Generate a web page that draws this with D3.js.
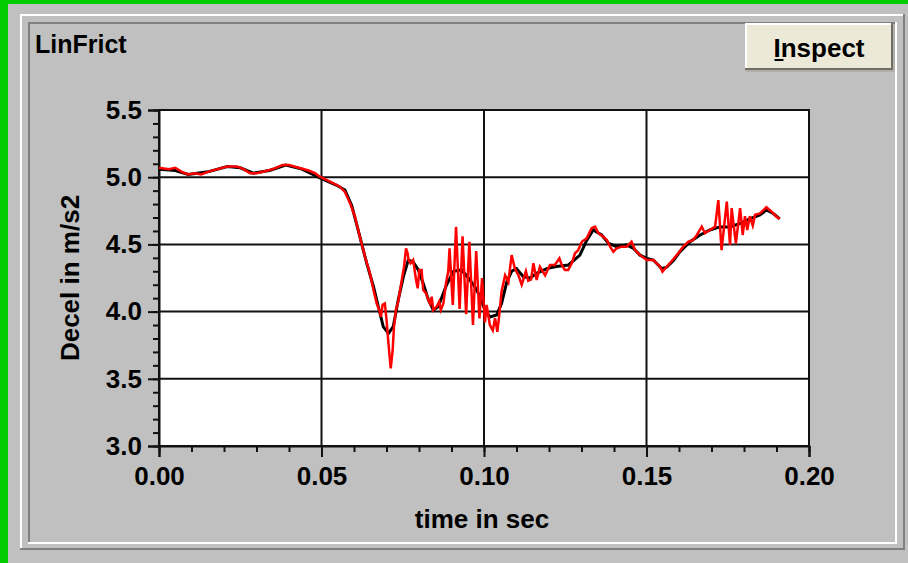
<!DOCTYPE html>
<html>
<head>
<meta charset="utf-8">
<script src="https://cdn.jsdelivr.net/npm/d3@7"></script>
<style>
  html, body { margin: 0; padding: 0; background: #c0c0c0; }
  svg { display: block; }
  text { font-family: "Liberation Sans", Arial, sans-serif; font-weight: bold; fill: #000; }
</style>
</head>
<body>
<svg id="chart" width="908" height="563"></svg>
<script>
// ---------------- DATA ----------------
const chartTitle = "LinFrict";
const buttonLabel = "Inspect";
const xTitle = "time in sec";
const yTitle = "Decel in m/s2";
const xTickValues = [0.00, 0.05, 0.10, 0.15, 0.20];
const xTickLabels = ["0.00", "0.05", "0.10", "0.15", "0.20"];
const yTickValues = [3.0, 3.5, 4.0, 4.5, 5.0, 5.5];
const yTickLabels = ["3.0", "3.5", "4.0", "4.5", "5.0", "5.5"];

// smoothed (black) series
const smoothTime = [0.000, 0.005, 0.009, 0.015, 0.021, 0.025, 0.029, 0.034, 0.039, 0.044, 0.050,
  0.0547, 0.0572, 0.0593, 0.0618, 0.0639, 0.0660, 0.0675, 0.0690, 0.0706, 0.0721, 0.0736, 0.0752,
  0.0767, 0.0782, 0.0798, 0.0813, 0.0829, 0.0844, 0.0859, 0.0875, 0.0885, 0.0906, 0.0931, 0.0952,
  0.0972, 0.0988, 0.1003, 0.1018, 0.1039, 0.1054, 0.1070, 0.1085, 0.1100, 0.1121, 0.1142, 0.1162,
  0.1193, 0.1223, 0.1260, 0.1295, 0.1316, 0.1336, 0.1362, 0.1383, 0.1408, 0.1439, 0.1460, 0.1480,
  0.1501, 0.1521, 0.1547, 0.1562, 0.1583, 0.1603, 0.1634, 0.1665, 0.1695, 0.1726, 0.1757, 0.1788,
  0.1818, 0.1849, 0.1869, 0.1890, 0.1910];
const smoothDecel = [5.06, 5.05, 5.02, 5.04, 5.08, 5.07, 5.03, 5.05, 5.09, 5.06, 4.99,
  4.94, 4.905, 4.79, 4.557, 4.36, 4.185, 4.036, 3.888, 3.838, 3.89, 4.086, 4.26,
  4.384, 4.37, 4.31, 4.21, 4.086, 4.012, 4.036, 4.136, 4.20, 4.30, 4.31, 4.25,
  4.185, 4.11, 4.012, 3.96, 3.975, 4.06, 4.22, 4.30, 4.32, 4.26, 4.25, 4.285,
  4.32, 4.335, 4.347, 4.42, 4.53, 4.607, 4.57, 4.508, 4.483, 4.496, 4.47, 4.42,
  4.396, 4.384, 4.32, 4.33, 4.38, 4.446, 4.52, 4.57, 4.607, 4.63, 4.63, 4.657,
  4.69, 4.72, 4.756, 4.73, 4.69];

// raw (red) series
const rawTime = [0.000, 0.003, 0.005, 0.007, 0.009, 0.011, 0.013, 0.015, 0.018, 0.021, 0.024,
  0.026, 0.028, 0.030, 0.032, 0.035, 0.038, 0.040, 0.043, 0.046, 0.048, 0.0495,
  0.0526, 0.0557, 0.0572, 0.0588, 0.0603, 0.0618, 0.0634, 0.0649, 0.0660, 0.0670, 0.0678,
  0.0683, 0.0688, 0.0695, 0.0700, 0.0706, 0.0713, 0.0719, 0.0723, 0.0729, 0.0736, 0.0747,
  0.0754, 0.0760, 0.0765, 0.0768, 0.0774, 0.0782, 0.0791, 0.0796, 0.0801, 0.0808, 0.0813,
  0.0822, 0.0829, 0.0834, 0.0839, 0.0844, 0.0854, 0.0862, 0.0867, 0.0875, 0.0883, 0.0890,
  0.0894, 0.0904, 0.0914, 0.0925, 0.0934, 0.0945, 0.0955, 0.0966, 0.0976, 0.0986, 0.0994,
  0.1003, 0.1008, 0.1018, 0.1027, 0.1034, 0.1041, 0.1047, 0.1054, 0.1065, 0.1075, 0.1085,
  0.1095, 0.1106, 0.1116, 0.1129, 0.1136, 0.1145, 0.1152, 0.1162, 0.1172, 0.1188, 0.1203,
  0.1218, 0.1232, 0.1239, 0.1249, 0.1259, 0.1270, 0.1280, 0.1290, 0.1301, 0.1316, 0.1331,
  0.1342, 0.1352, 0.1367, 0.1378, 0.1388, 0.1398, 0.1408, 0.1424, 0.1439, 0.1454, 0.1465,
  0.1480, 0.1501, 0.1521, 0.1542, 0.1549, 0.1562, 0.1572, 0.1593, 0.1613, 0.1629, 0.1644,
  0.1655, 0.1670, 0.1680, 0.1695, 0.1711, 0.1721, 0.1731, 0.1747, 0.1757, 0.1762, 0.1775,
  0.1788, 0.1796, 0.1803, 0.1810, 0.1818, 0.1827, 0.1834, 0.1849, 0.1869, 0.1885, 0.1900,
  0.1910];
const rawDecel = [5.07, 5.06, 5.07, 5.04, 5.02, 5.03, 5.02, 5.04, 5.06, 5.08, 5.08,
  5.06, 5.03, 5.03, 5.04, 5.06, 5.09, 5.09, 5.07, 5.05, 5.03, 5.004,
  4.967, 4.929, 4.89, 4.806, 4.706, 4.557, 4.408, 4.285, 4.16, 4.06, 4.01,
  3.962, 4.05, 4.06, 3.94, 3.764, 3.578, 3.714, 3.888, 4.012, 4.074, 4.235,
  4.334, 4.471, 4.434, 4.384, 4.359, 4.384, 4.235, 4.173, 4.31, 4.31, 4.16,
  4.136, 4.086, 4.06, 4.111, 4.012, 4.036, 4.074, 4.012, 4.06, 4.21, 4.30,
  4.47, 4.05, 4.63, 4.02, 4.56, 3.98, 4.52, 3.90, 4.45, 3.95, 4.25,
  3.92, 4.05, 3.90, 3.86, 3.95, 3.85, 3.975, 4.15, 4.27, 4.22, 4.42,
  4.32, 4.27, 4.20, 4.30, 4.23, 4.24, 4.36, 4.235, 4.334, 4.27, 4.347,
  4.347, 4.397, 4.347, 4.31, 4.31, 4.36, 4.434, 4.458, 4.52, 4.545, 4.62,
  4.632, 4.583, 4.557, 4.533, 4.483, 4.446, 4.47, 4.483, 4.483, 4.52, 4.458,
  4.42, 4.384, 4.384, 4.334, 4.297, 4.334, 4.36, 4.42, 4.483, 4.52, 4.533,
  4.57, 4.632, 4.583, 4.607, 4.632, 4.83, 4.458, 4.818, 4.496, 4.77, 4.508,
  4.77, 4.57, 4.71, 4.607, 4.71, 4.64, 4.72, 4.73, 4.776, 4.743, 4.706,
  4.69];

// ---------------- DRAW ----------------
const svg = d3.select("#chart");
const W = 908, H = 563;

svg.append("rect").attr("x", 0).attr("y", 0).attr("width", W).attr("height", H).attr("fill", "#c0c0c0");
// green window edge (left & top)
svg.append("rect").attr("x", 0).attr("y", 0).attr("width", 8).attr("height", H).attr("fill", "#00cc00");
svg.append("rect").attr("x", 0).attr("y", 0).attr("width", W).attr("height", 4).attr("fill", "#00cc00");

// group box bevels
function hline(x1, x2, y, c, w) { svg.append("line").attr("x1", x1).attr("x2", x2).attr("y1", y).attr("y2", y).attr("stroke", c).attr("stroke-width", w); }
function vline(x, y1, y2, c, w) { svg.append("line").attr("x1", x).attr("x2", x).attr("y1", y1).attr("y2", y2).attr("stroke", c).attr("stroke-width", w); }
// outer raised
hline(20, 905, 15, "#ffffff", 2);
vline(21, 14, 549, "#ffffff", 2);
hline(20, 905, 549, "#808080", 2);
vline(904, 14, 550, "#808080", 2);
// inner sunken
hline(28, 897, 23, "#808080", 2);
vline(29, 22, 543, "#808080", 2);
hline(28, 897, 543, "#ffffff", 2);
vline(896, 22, 544, "#ffffff", 2);

// title
svg.append("text").attr("x", 35).attr("y", 53).attr("font-size", 25).text(chartTitle);

// button
const bx = 745, by = 23, bw = 148, bh = 47;
svg.append("rect").attr("x", bx).attr("y", by).attr("width", bw).attr("height", bh).attr("fill", "#ece9d8");
hline(bx, bx + bw, by + 1, "#ffffff", 2);
vline(bx + 1, by, by + bh, "#ffffff", 2);
hline(bx, bx + bw, by + bh - 1, "#716f64", 2);
vline(bx + bw - 1, by, by + bh, "#716f64", 2);
hline(bx + 1, bx + bw + 1, by + bh + 1, "#a09e94", 1);
vline(bx + bw + 1, by + 1, by + bh + 1, "#a09e94", 1);
const btnText = svg.append("text").attr("x", bx + bw / 2).attr("y", 57).attr("text-anchor", "middle")
  .attr("font-size", 26).text(buttonLabel);
// underline first letter (access key)
const bb = btnText.node().getBBox();
svg.append("rect").attr("x", bb.x + 1).attr("y", 59).attr("width", 9).attr("height", 2).attr("fill", "#000");

// scales
const x = d3.scaleLinear().domain([0, 0.2]).range([159, 809]);
const y = d3.scaleLinear().domain([3, 5.5]).range([446, 110]);

// plot background
svg.append("rect").attr("x", x(0)).attr("y", y(5.5)).attr("width", x(0.2) - x(0)).attr("height", y(3) - y(5.5)).attr("fill", "#ffffff");

// grid
const grid = svg.append("g").attr("stroke", "#111").attr("stroke-width", 2);
yTickValues.forEach(v => grid.append("line").attr("x1", x(0)).attr("x2", x(0.2)).attr("y1", y(v)).attr("y2", y(v)));
xTickValues.forEach(v => grid.append("line").attr("x1", x(v)).attr("x2", x(v)).attr("y1", y(3)).attr("y2", y(5.5)));

// minor ticks
const minorX = d3.range(0, 21).map(i => i / 100);
const minorY = d3.range(30, 56).map(i => i / 10);
svg.append("g").attr("transform", `translate(0,${y(3)})`)
  .call(d3.axisBottom(x).tickValues(minorX).tickSize(6).tickFormat(""))
  .call(g => g.select(".domain").remove())
  .call(g => g.selectAll("line").attr("stroke", "#111").attr("stroke-width", 2));
svg.append("g").attr("transform", `translate(${x(0)},0)`)
  .call(d3.axisLeft(y).tickValues(minorY).tickSize(6).tickFormat(""))
  .call(g => g.select(".domain").remove())
  .call(g => g.selectAll("line").attr("stroke", "#111").attr("stroke-width", 2));

// major axes with labels
svg.append("g").attr("transform", `translate(0,${y(3)})`)
  .call(d3.axisBottom(x).tickValues(xTickValues).tickSize(11).tickPadding(10).tickFormat((d, i) => xTickLabels[i]))
  .call(g => g.select(".domain").attr("stroke", "#111").attr("stroke-width", 2))
  .call(g => g.selectAll("line").attr("stroke", "#111").attr("stroke-width", 2))
  .call(g => g.selectAll("text").attr("font-size", 26).attr("font-family", "Liberation Sans, Arial, sans-serif").attr("font-weight", "bold").attr("fill", "#000").attr("dy", "0.71em"));
svg.append("g").attr("transform", `translate(${x(0)},0)`)
  .call(d3.axisLeft(y).tickValues(yTickValues).tickSize(11).tickPadding(6).tickFormat((d, i) => yTickLabels[i]))
  .call(g => g.select(".domain").attr("stroke", "#111").attr("stroke-width", 2))
  .call(g => g.selectAll("line").attr("stroke", "#111").attr("stroke-width", 2))
  .call(g => g.selectAll("text").attr("font-size", 26).attr("font-family", "Liberation Sans, Arial, sans-serif").attr("font-weight", "bold").attr("fill", "#000"));

// frame top/right
svg.append("rect").attr("x", x(0)).attr("y", y(5.5)).attr("width", x(0.2) - x(0)).attr("height", y(3) - y(5.5))
  .attr("fill", "none").attr("stroke", "#111").attr("stroke-width", 2);

// series
const line = d3.line().x(d => x(d[0])).y(d => y(d[1]));
const smooth = smoothTime.map((t, i) => [t, smoothDecel[i]]);
const raw = rawTime.map((t, i) => [t, rawDecel[i]]);
svg.append("path").datum(smooth).attr("d", line).attr("fill", "none").attr("stroke", "#000").attr("stroke-width", 3);
svg.append("path").datum(raw).attr("d", line).attr("fill", "none").attr("stroke", "#ff0000").attr("stroke-width", 2.5);

// axis titles
svg.append("text").attr("x", (x(0) + x(0.2)) / 2 - 2).attr("y", 528).attr("text-anchor", "middle").attr("font-size", 26).text(xTitle);
svg.append("text").attr("transform", `translate(79,${(y(3) + y(5.5)) / 2}) rotate(-90)`).attr("text-anchor", "middle").attr("font-size", 26).text(yTitle);
</script>
</body>
</html>
